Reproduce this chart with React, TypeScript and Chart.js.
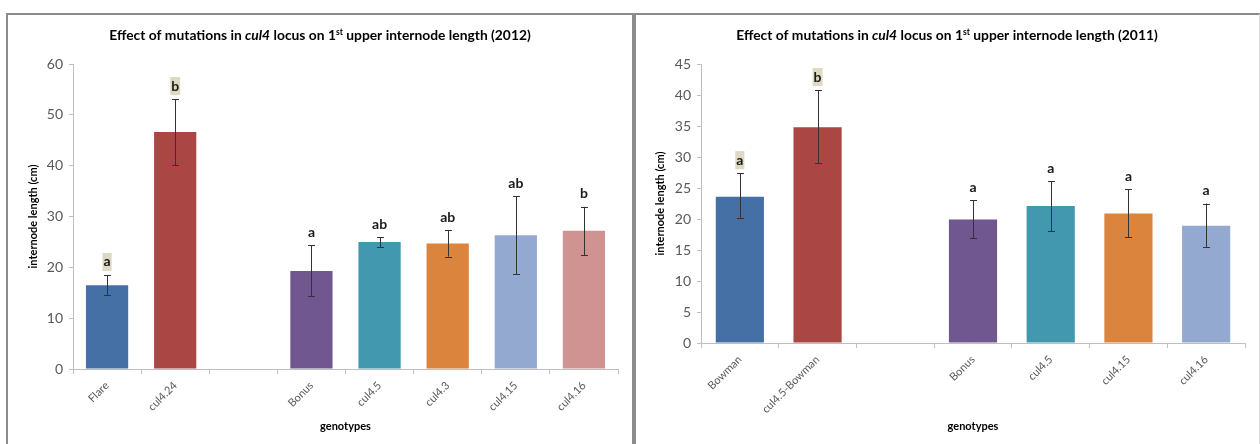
import React, { useEffect, useRef } from "react";
import { Chart, registerables } from "chart.js";

Chart.register(...registerables);

// ---------- data: 2012 panel ----------
const cats2012 = ["Flare", "cul4.24", "", "Bonus", "cul4.5", "cul4.3", "cul4.15", "cul4.16"];
const vals2012 = [16.5, 46.6, null, 19.3, 25.0, 24.7, 26.3, 27.2];
const errLo2012 = [14.6, 40.1, null, 14.3, 24.0, 22.1, 18.6, 22.4];
const errHi2012 = [18.5, 53.1, null, 24.3, 25.9, 27.3, 34.0, 31.9];
const letters2012 = ["a", "b", "", "a", "ab", "ab", "ab", "b"];
const shaded2012 = [true, true, false, false, false, false, false, false];
const yTicks2012 = { min: 0, max: 60, step: 10 };

// ---------- data: 2011 panel ----------
const cats2011 = ["Bowman", "cul4.5-Bowman", "", "Bonus", "cul4.5", "cul4.15", "cul4.16"];
const vals2011 = [23.6, 34.8, null, 19.9, 22.1, 20.9, 18.9];
const errLo2011 = [20.2, 29.0, null, 16.9, 18.0, 17.1, 15.5];
const errHi2011 = [27.4, 40.8, null, 23.0, 26.1, 24.8, 22.5];
const letters2011 = ["a", "b", "", "a", "a", "a", "a"];
const shaded2011 = [true, true, false, false, false, false, false];
const yTicks2011 = { min: 0, max: 45, step: 5 };

const colors2012 = ["#4470A6", "#AA4644", "#ffffff", "#71578F", "#4198AF", "#DB843D", "#93A9CF", "#D09392"];
const colors2011 = ["#4470A6", "#AA4644", "#ffffff", "#71578F", "#4198AF", "#DB843D", "#93A9CF"];

const FONT = "Lato, 'Open Sans', 'Noto Sans', sans-serif";

type PanelCfg = {
  year: string;
  cats: string[];
  vals: (number | null)[];
  lo: (number | null)[];
  hi: (number | null)[];
  letters: string[];
  shaded: boolean[];
  colors: string[];
  yt: { min: number; max: number; step: number };
  width: number;
  height: number;
  yWidth: number;
  xHeight: number;
  padRight: number;
  titleX: number;
  yTitleX: number;
};

function makePlugin(p: PanelCfg) {
  return {
    id: "annot" + p.year,
    afterDatasetsDraw(chart: any) {
      const { ctx, scales, chartArea } = chart;
      const y = scales.y;
      const meta = chart.getDatasetMeta(0);
      ctx.save();
      meta.data.forEach((el: any, i: number) => {
        if (p.vals[i] == null) return;
        const hi = y.getPixelForValue(p.hi[i]);
        const lo = y.getPixelForValue(p.lo[i]);
        const x = Math.round(el.x) + 0.5;
        ctx.strokeStyle = "#333333";
        ctx.lineWidth = 1;
        ctx.beginPath();
        ctx.moveTo(x, hi);
        ctx.lineTo(x, lo);
        ctx.moveTo(x - 3.5, Math.round(hi) + 0.5);
        ctx.lineTo(x + 3.5, Math.round(hi) + 0.5);
        ctx.moveTo(x - 3.5, Math.round(lo) + 0.5);
        ctx.lineTo(x + 3.5, Math.round(lo) + 0.5);
        ctx.stroke();
        const t = p.letters[i];
        if (t) {
          ctx.font = `bold 14px ${FONT}`;
          const w = ctx.measureText(t).width;
          const cy = hi - 13;
          if (p.shaded[i]) {
            ctx.fillStyle = "#DDD9C3";
            ctx.fillRect(el.x - w / 2 - 1, cy - 9, w + 2, 18);
          }
          ctx.fillStyle = "#1a1a1a";
          ctx.textAlign = "center";
          ctx.textBaseline = "middle";
          ctx.fillText(t, el.x, cy);
        }
      });

      // Title with mixed styles
      const runs = [
        { t: "Effect of mutations in ", st: "b" },
        { t: "cul4", st: "bi" },
        { t: " locus on 1", st: "b" },
        { t: "st", st: "sup" },
        { t: ` upper internode length (${p.year})`, st: "b" },
      ];
      const fontFor = (st: string, s: number) =>
        st === "bi" ? `italic bold ${s}px ${FONT}` : st === "sup" ? `bold ${s * 0.62}px ${FONT}` : `bold ${s}px ${FONT}`;
      const measure = (s: number) =>
        runs.reduce((acc, r) => {
          ctx.font = fontFor(r.st, s);
          return acc + ctx.measureText(r.t).width;
        }, 0);
      let size = 12;
      size = (size * 422) / measure(size);
      const total = measure(size);
      let cx = p.titleX - total / 2;
      const ty = 21;
      ctx.fillStyle = "#000";
      ctx.textAlign = "left";
      ctx.textBaseline = "middle";
      runs.forEach((r) => {
        ctx.font = fontFor(r.st, size);
        ctx.fillText(r.t, cx, r.st === "sup" ? ty - size * 0.3 : ty);
        cx += ctx.measureText(r.t).width;
      });

      // axis titles
      ctx.font = `bold 11px ${FONT}`;
      ctx.fillStyle = "#000";
      ctx.textAlign = "center";
      ctx.textBaseline = "middle";
      ctx.fillText("genotypes", (chartArea.left + chartArea.right) / 2, 411);
      ctx.save();
      ctx.translate(p.yTitleX, (chartArea.top + chartArea.bottom) / 2);
      ctx.rotate(-Math.PI / 2);
      ctx.fillText("internode length (cm)", 0, 0);
      ctx.restore();
      ctx.restore();
    },
  };
}

function Panel({ p }: { p: PanelCfg }) {
  const ref = useRef<HTMLCanvasElement>(null);
  useEffect(() => {
    if (!ref.current) return;
    const chart = new Chart(ref.current, {
      type: "bar",
      data: {
        labels: p.cats,
        datasets: [
          {
            data: p.vals as any,
            backgroundColor: p.colors,
            borderWidth: 0,
            barPercentage: 0.62,
            categoryPercentage: 1,
          },
        ],
      },
      options: {
        animation: false,
        responsive: false,
        devicePixelRatio: 1,
        layout: { padding: { top: 49, left: 0, right: p.padRight, bottom: 0 } },
        plugins: { legend: { display: false }, tooltip: { enabled: false }, title: { display: false } },
        scales: {
          x: {
            afterFit: (s: any) => {
              s.height = p.xHeight;
            },
            grid: { display: true, drawOnChartArea: false, drawTicks: true, tickLength: 5, color: "#BFBFBF", offset: true },
            border: { display: true, color: "#BFBFBF", width: 1 },
            ticks: {
              autoSkip: false,
              minRotation: 45,
              maxRotation: 45,
              color: "#595959",
              font: { family: FONT, size: 11 },
              padding: 5,
            },
          },
          y: {
            min: p.yt.min,
            max: p.yt.max,
            afterFit: (s: any) => {
              s.width = p.yWidth;
            },
            grid: { display: true, drawOnChartArea: false, drawTicks: true, tickLength: 4, color: "#BFBFBF" },
            border: { display: true, color: "#BFBFBF", width: 1 },
            ticks: {
              stepSize: p.yt.step,
              color: "#595959",
              font: { family: FONT, size: 14 },
              padding: 6,
            },
          },
        },
      },
      plugins: [makePlugin(p)],
    });
    return () => chart.destroy();
  }, [p]);
  return <canvas ref={ref} width={p.width} height={p.height} style={{ display: "block", width: p.width, height: p.height }} />;
}

const left: PanelCfg = {
  year: "2012",
  cats: cats2012,
  vals: vals2012,
  lo: errLo2012,
  hi: errHi2012,
  letters: letters2012,
  shaded: shaded2012,
  colors: colors2012,
  yt: yTicks2012,
  width: 624,
  height: 429,
  yWidth: 65,
  xHeight: 75,
  padRight: 14,
  titleX: 312,
  yTitleX: 25,
};

const right: PanelCfg = {
  year: "2011",
  cats: cats2011,
  vals: vals2011,
  lo: errLo2011,
  hi: errHi2011,
  letters: letters2011,
  shaded: shaded2011,
  colors: colors2011,
  yt: yTicks2011,
  width: 622,
  height: 429,
  yWidth: 65,
  xHeight: 101,
  padRight: 13,
  titleX: 311,
  yTitleX: 24,
};

export default function App() {
  useEffect(() => {
    document.body.style.margin = "0";
  }, []);
  return (
    <div style={{ position: "relative", width: 1260, height: 444, overflow: "hidden", background: "#fff" }}>
      <div
        style={{
          position: "absolute",
          left: 6,
          top: 13,
          width: 628,
          height: 440,
          boxSizing: "border-box",
          borderTop: "2px solid #8c8c8c",
          borderLeft: "2px solid #8c8c8c",
          borderRight: "2px solid #8c8c8c",
        }}
      />
      <div
        style={{
          position: "absolute",
          left: 634,
          top: 13,
          width: 626,
          height: 440,
          boxSizing: "border-box",
          borderTop: "2px solid #8c8c8c",
          borderLeft: "2px solid #8c8c8c",
          borderRight: "1px solid #e0e0e0",
        }}
      />
      <div style={{ position: "absolute", left: 8, top: 15 }}>
        <Panel p={left} />
      </div>
      <div style={{ position: "absolute", left: 636, top: 15 }}>
        <Panel p={right} />
      </div>
    </div>
  );
}
